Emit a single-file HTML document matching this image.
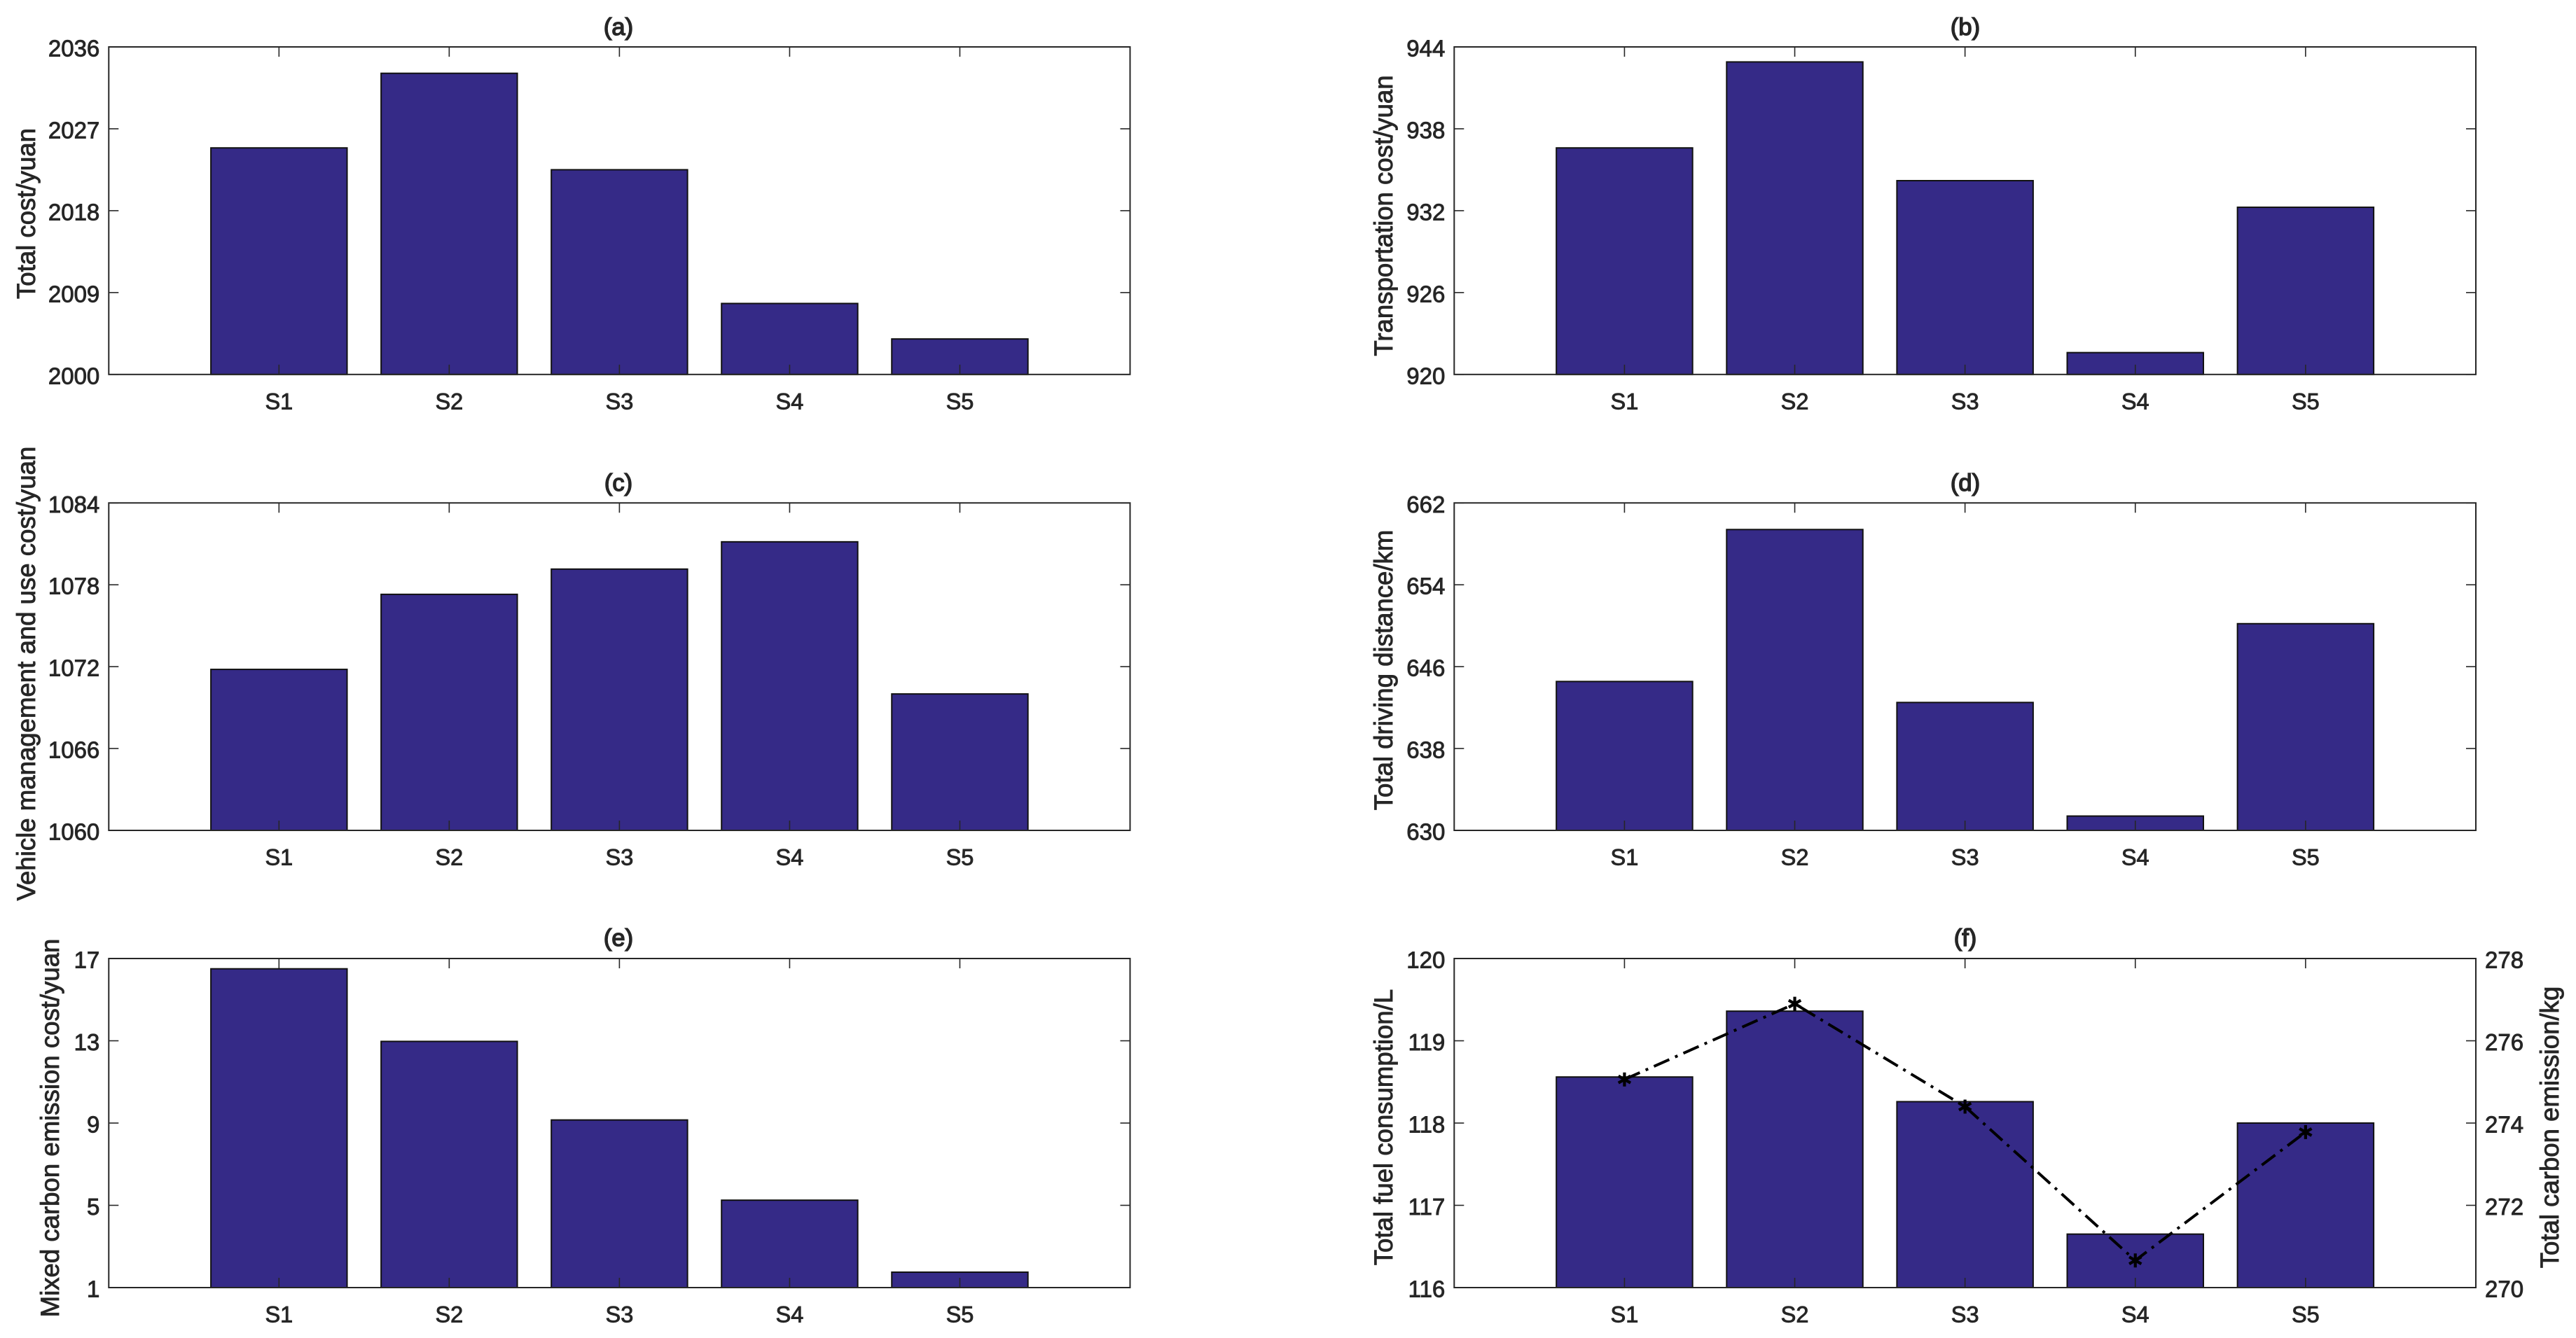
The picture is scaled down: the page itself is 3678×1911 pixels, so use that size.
<!DOCTYPE html>
<html lang="en">
<head>
<meta charset="utf-8">
<title>Scenario comparison charts</title>
<style>
html,body{margin:0;padding:0;background:#fff;}
svg{display:block;}
text{font-family:"Liberation Sans",Arial,sans-serif;fill:#262626;stroke:#262626;stroke-width:.9px;}
.tick{font-size:33px;}
.cat{font-size:32.5px;}
.ylab{font-size:36.6px;text-anchor:middle;}
.title{font-size:34.5px;text-anchor:middle;stroke-width:1.5px;}
</style>
</head>
<body>
<svg id="figure" xmlns="http://www.w3.org/2000/svg" width="3678" height="1911" viewBox="0 0 3678 1911">
  <rect width="3678" height="1911" fill="#ffffff"/>
  <g id="panel-a"></g>
  <g id="panel-b"></g>
  <g id="panel-c"></g>
  <g id="panel-d"></g>
  <g id="panel-e"></g>
  <g id="panel-f"></g>

  <text class="title" x="883" y="50">(a)</text>
  <text class="title" x="2806" y="50">(b)</text>
  <text class="title" x="883" y="701">(c)</text>
  <text class="title" x="2806" y="701">(d)</text>
  <text class="title" x="883" y="1351">(e)</text>
  <text class="title" x="2806" y="1351">(f)</text>

  <text class="ylab" transform="translate(50,305) rotate(-90)">Total cost/yuan</text>
  <text class="ylab" transform="translate(1988,308) rotate(-90)">Transportation cost/yuan</text>
  <text class="ylab" transform="translate(50,962) rotate(-90)">Vehicle management and use cost/yuan</text>
  <text class="ylab" transform="translate(1988,957) rotate(-90)">Total driving distance/km</text>
  <text class="ylab" transform="translate(84,1611) rotate(-90)">Mixed carbon emission cost/yuan</text>
  <text class="ylab" transform="translate(1988,1610) rotate(-90)">Total fuel consumption/L</text>
  <text class="ylab" transform="translate(3653,1610) rotate(-90)">Total carbon emission/kg</text>
</svg>
<script>
const categories = ['S1', 'S2', 'S3', 'S4', 'S5'];

const totalCost = [2024.9, 2033.1, 2022.5, 2007.8, 2003.9];
const transportationCost = [936.6, 942.9, 934.2, 921.6, 932.25];
const vehicleCost = [1071.8, 1077.3, 1079.15, 1081.15, 1070.0];
const drivingDistance = [644.55, 659.4, 642.5, 631.4, 650.2];
const carbonCost = [16.5, 12.97, 9.15, 5.25, 1.75];
const fuelConsumption = [118.56, 119.36, 118.26, 116.65, 118.0];
const carbonEmission = [275.06, 276.9, 274.4, 270.66, 273.78];

const ticksA = [2000, 2009, 2018, 2027, 2036];
const ticksB = [920, 926, 932, 938, 944];
const ticksC = [1060, 1066, 1072, 1078, 1084];
const ticksD = [630, 638, 646, 654, 662];
const ticksE = [1, 5, 9, 13, 17];
const ticksF = [116, 117, 118, 119, 120];
const ticksFRight = [270, 272, 274, 276, 278];

const SVGNS = 'http://www.w3.org/2000/svg';
const BAR_COLOR = '#352A87';
const AXIS_COLOR = '#262626';

function node(parent, tag, props) {
  const el = document.createElementNS(SVGNS, tag);
  for (const key in props) el.setAttribute(key, props[key]);
  parent.appendChild(el);
  return el;
}

function drawPanel(id, box, values, ticks, rightTicks, lineValues) {
  const g = document.getElementById(id);
  const sx = i => box.left + (box.right - box.left) * (i + 1) / 6;
  const sy = v => box.bottom - (v - ticks[0]) / (ticks[ticks.length - 1] - ticks[0]) * (box.bottom - box.top);
  const barWidth = (box.right - box.left) / 6 * 0.8;

  values.forEach(function (v, i) {
    const bar = node(g, 'rect', {
      x: sx(i) - barWidth / 2, y: sy(v), width: barWidth, height: box.bottom - sy(v),
      fill: BAR_COLOR, stroke: '#111', 'stroke-width': 2
    });
    
    
  });

  const frame = node(g, 'rect', {
    x: box.left, y: box.top, width: box.right - box.left, height: box.bottom - box.top,
    fill: 'none', stroke: AXIS_COLOR, 'stroke-width': 2
  });
  
  

  categories.forEach(function (c, i) {
    const x = sx(i);
    const top = node(g, 'line', { x1: x, x2: x, y1: box.top, y2: box.top + 14, stroke: AXIS_COLOR, 'stroke-width': 1.6 });
    
    
    const bottom = node(g, 'line', { x1: x, x2: x, y1: box.bottom, y2: box.bottom - 14, stroke: AXIS_COLOR, 'stroke-width': 1.6 });
    
    
    const label = node(g, 'text', { class: 'cat', x: x, y: box.bottom + 49.5, 'text-anchor': 'middle' });
    label.textContent = c;
    
    
  });

  ticks.forEach(function (t) {
    const y = sy(t);
    const left = node(g, 'line', { x1: box.left, x2: box.left + 14, y1: y, y2: y, stroke: AXIS_COLOR, 'stroke-width': 1.6 });
    
    
    const label = node(g, 'text', { class: 'tick', x: box.left - 13, y: y + 13.5, 'text-anchor': 'end' });
    label.textContent = t;
    
    
    if (!rightTicks) {
      const right = node(g, 'line', { x1: box.right, x2: box.right - 14, y1: y, y2: y, stroke: AXIS_COLOR, 'stroke-width': 1.6 });
      
      
    }
  });

  if (rightTicks) {
    const syRight = v => box.bottom - (v - rightTicks[0]) / (rightTicks[rightTicks.length - 1] - rightTicks[0]) * (box.bottom - box.top);
    rightTicks.forEach(function (t) {
      const y = syRight(t);
      const tick = node(g, 'line', { x1: box.right, x2: box.right - 14, y1: y, y2: y, stroke: AXIS_COLOR, 'stroke-width': 1.6 });
      
      
      const label = node(g, 'text', { class: 'tick', x: box.right + 13, y: y + 13.5, 'text-anchor': 'start' });
      label.textContent = t;
      
      
    });

    const pts = lineValues.map((v, i) => sx(i) + ',' + syRight(v)).join(' ');
    const line = node(g, 'polyline', {
      points: pts, fill: 'none', stroke: '#000', 'stroke-width': 4,
      'stroke-dasharray': '24 9 4 9'
    });
    
    

    lineValues.forEach(function (v, i) {
      const cx = sx(i), cy = syRight(v), r = 10;
      let d = '';
      for (let k = 0; k < 3; k++) {
        const a = Math.PI / 2 + k * Math.PI / 3;
        const dx = r * Math.cos(a), dy = r * Math.sin(a);
        d += 'M' + (cx - dx) + ' ' + (cy - dy) + 'L' + (cx + dx) + ' ' + (cy + dy);
      }
      const marker = node(g, 'path', { d: d, fill: 'none', stroke: '#000', 'stroke-width': 4.2 });
      
      
    });
  }
}

const colLeft = { left: 155.3, right: 1613.5 };
const colRight = { left: 2076.3, right: 3535 };
const row1 = { top: 67, bottom: 534.8 };
const row2 = { top: 718.3, bottom: 1186 };
const row3 = { top: 1369, bottom: 1839 };

drawPanel('panel-a', Object.assign({}, colLeft, row1), totalCost, ticksA);
drawPanel('panel-b', Object.assign({}, colRight, row1), transportationCost, ticksB);
drawPanel('panel-c', Object.assign({}, colLeft, row2), vehicleCost, ticksC);
drawPanel('panel-d', Object.assign({}, colRight, row2), drivingDistance, ticksD);
drawPanel('panel-e', Object.assign({}, colLeft, row3), carbonCost, ticksE);
drawPanel('panel-f', Object.assign({}, colRight, row3), fuelConsumption, ticksF, ticksFRight, carbonEmission);
</script>
</body>
</html>
